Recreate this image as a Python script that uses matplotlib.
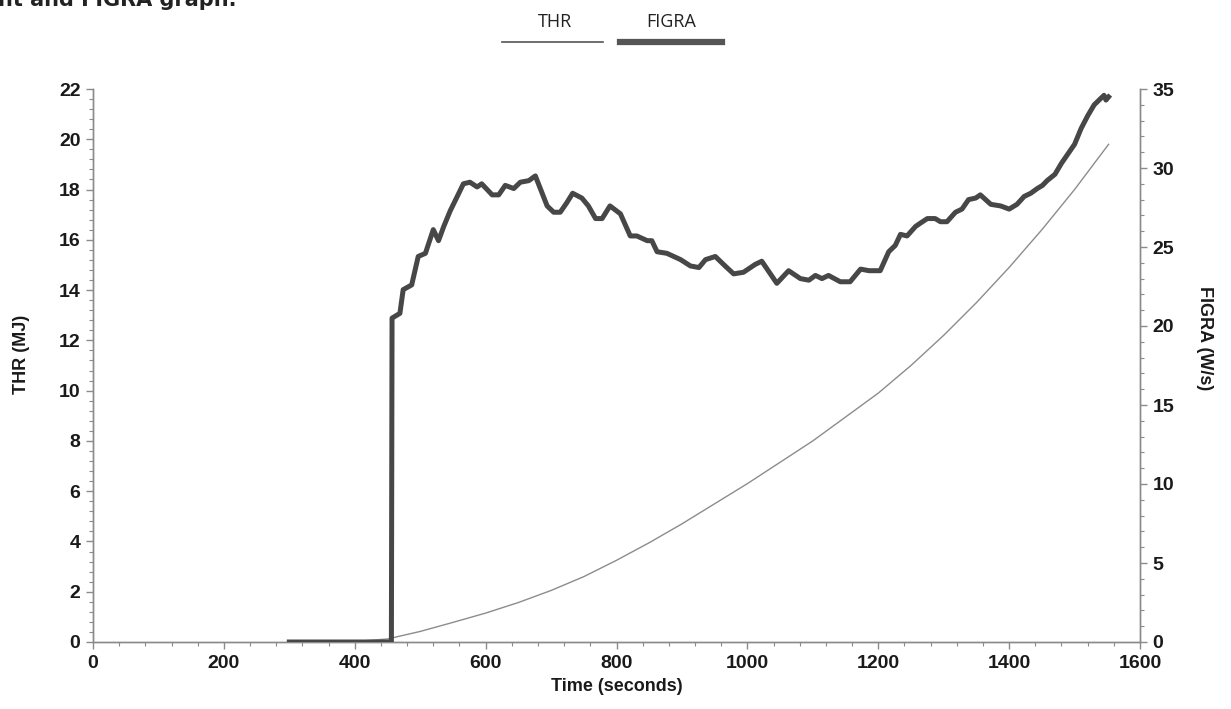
"""THR and FIGRA graph, recreated with matplotlib."""
import matplotlib
matplotlib.use("Agg")
import matplotlib.pyplot as plt
from matplotlib.lines import Line2D
from matplotlib.ticker import MultipleLocator

# Total heat release (MJ), left axis
thr_time = [300, 400, 450, 500, 550, 600, 650, 700, 750, 800, 850, 900, 950,
            1000, 1050, 1100, 1150, 1200, 1250, 1300, 1350, 1400, 1450, 1500,
            1552]
thr_values = [0.0, 0.02, 0.12, 0.42, 0.78, 1.15, 1.57, 2.05, 2.6, 3.25, 3.95,
              4.7, 5.5, 6.3, 7.15, 8.0, 8.95, 9.9, 11.0, 12.2, 13.5, 14.9,
              16.4, 18.0, 19.8]

# FIGRA (W/s), right axis
figra_time = [300, 456, 457, 469, 474, 487, 497, 508, 520, 528, 536, 546, 559,
              566, 576, 587, 594, 610, 620, 630, 643, 653, 666, 676, 694, 704,
              714, 724, 733, 747, 757, 768, 778, 790, 806, 821, 831, 847, 854,
              862, 877, 898, 913, 926, 936, 951, 966, 979, 994, 1012, 1022,
              1045, 1063, 1081, 1094, 1104, 1114, 1124, 1142, 1157, 1173,
              1186, 1203, 1216, 1226, 1234, 1244, 1257, 1264, 1275, 1287,
              1295, 1305, 1318, 1328, 1338, 1349, 1356, 1372, 1387, 1400,
              1412, 1423, 1433, 1443, 1451, 1458, 1470, 1480, 1490, 1500,
              1510, 1520, 1530, 1540, 1545, 1548, 1552]
figra_values = [0.0, 0.0, 20.5, 20.8, 22.3, 22.6, 24.4, 24.6, 26.1, 25.4, 26.3,
                27.3, 28.4, 29.0, 29.1, 28.8, 29.0, 28.3, 28.3, 28.9, 28.7,
                29.1, 29.2, 29.5, 27.6, 27.2, 27.2, 27.8, 28.4, 28.1, 27.6,
                26.8, 26.8, 27.6, 27.1, 25.7, 25.7, 25.4, 25.4, 24.7, 24.6,
                24.2, 23.8, 23.7, 24.2, 24.4, 23.8, 23.3, 23.4, 23.9, 24.1,
                22.7, 23.5, 23.0, 22.9, 23.2, 23.0, 23.2, 22.8, 22.8, 23.6,
                23.5, 23.5, 24.7, 25.1, 25.8, 25.7, 26.3, 26.5, 26.8, 26.8,
                26.6, 26.6, 27.2, 27.4, 28.0, 28.1, 28.3, 27.7, 27.6, 27.4,
                27.7, 28.2, 28.4, 28.7, 28.9, 29.2, 29.6, 30.3, 30.9, 31.5,
                32.5, 33.3, 34.0, 34.4, 34.6, 34.3, 34.5]

TICK_FONT = {"family": "Liberation Sans", "weight": "bold", "size": 14}
LABEL_FONT = {"family": "Liberation Sans", "weight": "bold", "size": 13}
AXIS_GRAY = "#8a8a8a"
W, H = 1231, 709

fig = plt.figure(figsize=(12.31, 7.09), dpi=100)
ax = fig.add_axes([93 / W, 1 - 642 / H, 1047 / W, 553 / H])
ax2 = ax.twinx()

ax.plot(thr_time, thr_values, color="#8c8c8c", linewidth=1.0, zorder=2)
ax2.plot(figra_time, figra_values, color="#474747", linewidth=3.6,
         solid_joinstyle="round", zorder=3)

ax.set_xlim(0, 1600)
ax.set_ylim(0, 22)
ax2.set_ylim(0, 35)

ax.xaxis.set_major_locator(MultipleLocator(200))
ax.xaxis.set_minor_locator(MultipleLocator(40))
ax.yaxis.set_major_locator(MultipleLocator(2))
ax.yaxis.set_minor_locator(MultipleLocator(0.4))
ax2.yaxis.set_major_locator(MultipleLocator(5))
ax2.yaxis.set_minor_locator(MultipleLocator(1))

for a in (ax, ax2):
    a.spines["top"].set_visible(False)
    for side in ("left", "right", "bottom"):
        a.spines[side].set_color(AXIS_GRAY)
        a.spines[side].set_linewidth(1.0)
    a.tick_params(which="major", length=5, color=AXIS_GRAY, width=1, pad=4)
    a.tick_params(which="minor", length=3, color=AXIS_GRAY, width=0.8)
    for lab in a.get_xticklabels() + a.get_yticklabels():
        lab.set_fontproperties(TICK_FONT)
        lab.set_color("#1a1a1a")

ax.set_xlabel("Time (seconds)", fontdict=LABEL_FONT, color="#1a1a1a", labelpad=5)
ax.set_ylabel("THR (MJ)", fontdict=LABEL_FONT, color="#1a1a1a")
ax2.set_ylabel("FIGRA (W/s)", fontdict=LABEL_FONT, color="#1a1a1a")
ax.yaxis.label.set(rotation=90, ha="center", va="center", rotation_mode="default")
ax2.yaxis.label.set(rotation=-90, ha="center", va="center", rotation_mode="default")
ax.yaxis.set_label_coords((22 - 93) / 1047, 0.52)
ax2.yaxis.set_label_coords((1205 - 93) / 1047, 0.55)

# legend drawn in figure coordinates above the plot
fig.text(555 / W, 1 - 22 / H, "THR", ha="center", va="center",
         family="Open Sans", fontsize=13, color="#222222")
fig.text(671 / W, 1 - 22 / H, "FIGRA", ha="center", va="center",
         family="Open Sans", fontsize=13, color="#222222")
fig.add_artist(Line2D([502 / W, 603 / W], [1 - 42 / H, 1 - 42 / H],
                      color="#555555", linewidth=1.2))
fig.add_artist(Line2D([620 / W, 722 / W], [1 - 42 / H, 1 - 42 / H],
                      color="#555555", linewidth=4.5))

# title, mostly cut off at the top edge like the source page
fig.text(-0.002, 1 - 5.5 / H, "nt and FIGRA graph.", ha="left", va="baseline",
         family="DejaVu Sans", fontweight="bold", fontsize=15, color="#222222")

fig.savefig("out.png", dpi=100, facecolor="white")
